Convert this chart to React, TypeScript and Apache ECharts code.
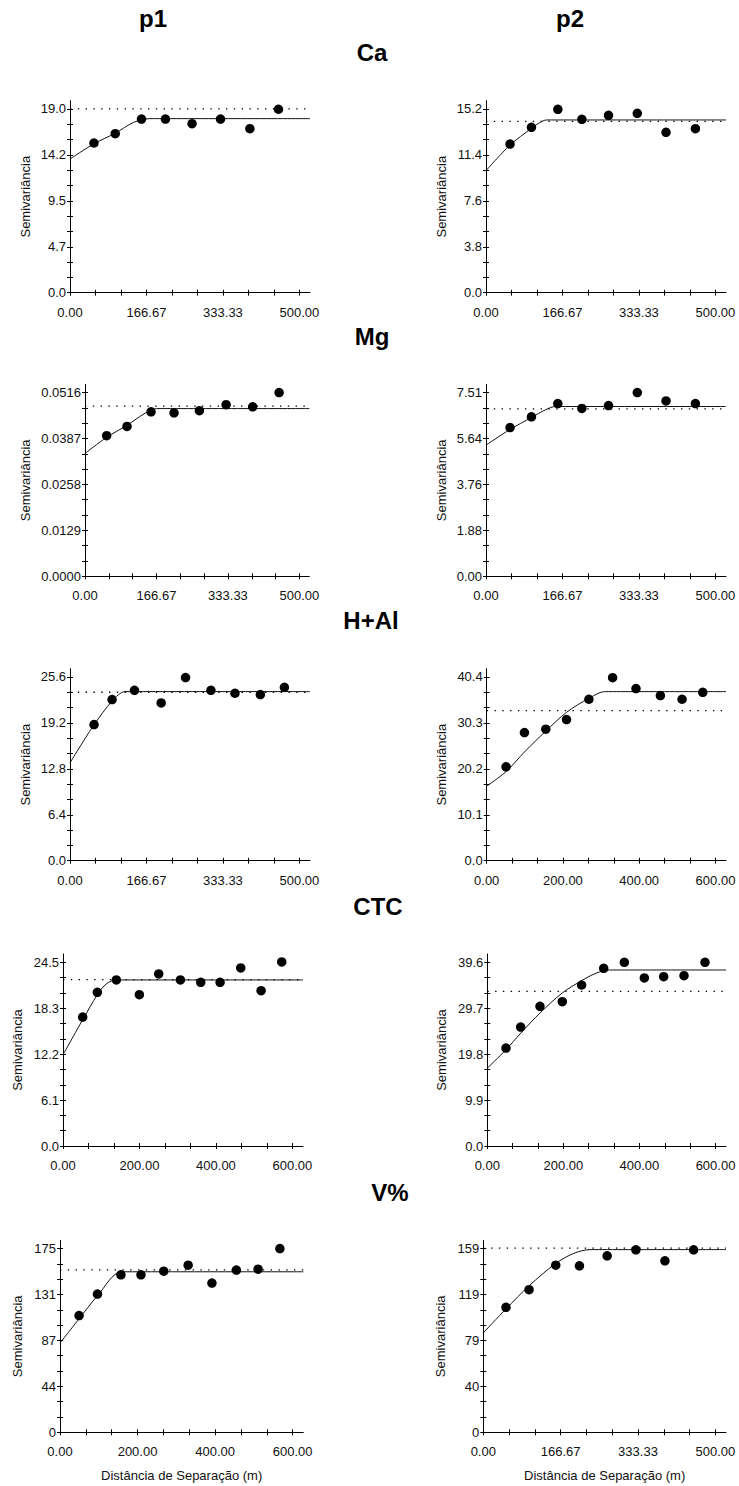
import React, { useEffect, useRef } from "react";
import * as echarts from "echarts";

const W = 739;
const H = 1486;
const FONT = "'Liberation Sans', Arial, Helvetica, sans-serif";

// ---------- titles ----------
const columnTitles = ["p1", "p2"];
const rowTitles = ["Ca", "Mg", "H+Al", "CTC", "V%"];
const yName = "Semivariância";
const xName = "Distância de Separação (m)";

// ---------- tick labels ----------
const xLabels500 = ["0.00", "166.67", "333.33", "500.00"];
const xLabels600 = ["0.00", "200.00", "400.00", "600.00"];

const yLabelsCaP1 = ["0.0", "4.7", "9.5", "14.2", "19.0"];
const yLabelsCaP2 = ["0.0", "3.8", "7.6", "11.4", "15.2"];
const yLabelsMgP1 = ["0.0000", "0.0129", "0.0258", "0.0387", "0.0516"];
const yLabelsMgP2 = ["0.00", "1.88", "3.76", "5.64", "7.51"];
const yLabelsHP1 = ["0.0", "6.4", "12.8", "19.2", "25.6"];
const yLabelsHP2 = ["0.0", "10.1", "20.2", "30.3", "40.4"];
const yLabelsCtcP1 = ["0.0", "6.1", "12.2", "18.3", "24.5"];
const yLabelsCtcP2 = ["0.0", "9.9", "19.8", "29.7", "39.6"];
const yLabelsVP1 = ["0", "44", "87", "131", "175"];
const yLabelsVP2 = ["0", "40", "79", "119", "159"];

// ---------- experimental semivariograms (lag m, semivariance) ----------
const caP1Lag = [52.2, 98.6, 155.8, 208.0, 266.0, 328.0, 392.0, 454.3];
const caP1Gamma = [15.48, 16.44, 17.96, 17.96, 17.48, 17.96, 16.96, 18.97];
const caP2Lag = [52.4, 99.0, 156.5, 208.9, 267.0, 329.7, 392.3, 456.3];
const caP2Gamma = [12.3, 13.68, 15.17, 14.34, 14.67, 14.84, 13.27, 13.57];

const mgP1Lag = [50.5, 98.0, 154.0, 207.6, 266.7, 329.0, 391.0, 452.6];
const mgP1Gamma = [0.0395, 0.0421, 0.0462, 0.0459, 0.0465, 0.0482, 0.0476, 0.0516];
const mgP2Lag = [52.4, 99.0, 156.5, 208.9, 267.0, 329.7, 392.3, 456.3];
const mgP2Gamma = [6.08, 6.52, 7.06, 6.86, 6.98, 7.51, 7.17, 7.06];

const hP1Lag = [52.4, 91.7, 140.5, 198.7, 251.8, 307.1, 359.5, 414.8, 467.2];
const hP1Gamma = [18.97, 22.45, 23.74, 21.98, 25.51, 23.74, 23.33, 23.14, 24.16];
const hP2Lag = [50.8, 99.0, 155.0, 209.3, 268.0, 330.2, 391.5, 455.5, 512.4, 566.7];
const hP2Gamma = [20.64, 28.18, 28.91, 31.03, 35.5, 40.25, 37.84, 36.3, 35.5, 37.03];

const ctcP1Lag = [51.5, 89.8, 139.5, 199.7, 250.3, 307.0, 360.2, 410.8, 464.8, 518.0, 572.0];
const ctcP1Gamma = [17.19, 20.49, 22.14, 20.18, 22.94, 22.14, 21.83, 21.83, 23.74, 20.71, 24.54];
const ctcP2Lag = [49.1, 87.7, 138.5, 197.2, 248.0, 306.0, 360.3, 412.9, 463.7, 517.2, 572.4];
const ctcP2Gamma = [21.1, 25.63, 30.1, 31.1, 34.7, 38.3, 39.6, 36.22, 36.5, 36.72, 39.6];

const vP1Lag = [49.2, 96.7, 157.1, 208.9, 267.6, 330.6, 391.9, 455.0, 511.0, 567.2];
const vP1Gamma = [111.2, 131.7, 150.0, 150.0, 153.5, 159.2, 142.1, 154.5, 155.4, 175.0];
const vP2Lag = [48.9, 98.6, 156.1, 207.2, 266.9, 328.8, 391.4, 453.2];
const vP2Gamma = [108.2, 123.4, 144.6, 144.1, 152.7, 157.9, 148.4, 157.9];

// ---------- fitted models (up to the range) ----------
const caP1ModelLag = [0, 52, 99, 138, 174];
const caP1ModelGamma = [13.82, 15.4, 16.5, 17.6, 18.0];
const caP2ModelLag = [0, 52, 99, 116, 132];
const caP2ModelGamma = [10.1, 12.2, 13.6, 14.05, 14.29];

const mgP1ModelLag = [0, 50, 98, 140, 167];
const mgP1ModelGamma = [0.0345, 0.039, 0.0424, 0.0458, 0.0471];
const mgP2ModelLag = [0, 52, 99, 130, 151];
const mgP2ModelGamma = [5.36, 6.0, 6.49, 6.81, 6.94];

const hP1ModelLag = [0, 15, 52, 92, 120];
const hP1ModelGamma = [13.63, 15.2, 18.9, 22.26, 23.56];
const hP2ModelLag = [0, 51, 99, 155, 209, 268, 311];
const hP2ModelGamma = [16.4, 19.6, 23.9, 28.5, 32.6, 35.7, 37.18];

const ctcP1ModelLag = [0, 51.5, 90, 114, 140];
const ctcP1ModelGamma = [12.16, 16.84, 20.18, 21.65, 22.14];
const ctcP2ModelLag = [0, 49, 88, 138.5, 197, 248, 287.5, 321];
const ctcP2ModelGamma = [16.78, 20.74, 24.34, 28.66, 32.98, 35.64, 37.3, 37.94];

const vP1ModelLag = [0, 49, 97, 160];
const vP1ModelGamma = [85, 108, 130.1, 152.9];
const vP2ModelLag = [0, 49, 99, 156, 194, 230];
const vP2ModelGamma = [86.1, 106.8, 126.9, 146.1, 154.7, 158.1];

// ---------- sample variance (dotted line) ----------
const sampleVariance = [19.0, 14.18, 0.0478, 6.84, 23.47, 33.01, 22.18, 33.34, 154.8, 159.3];

// ---------- panel wiring ----------
const panels = [
  { lag: caP1Lag, gamma: caP1Gamma, mLag: caP1ModelLag, mGamma: caP1ModelGamma, xl: xLabels500, yl: yLabelsCaP1 },
  { lag: caP2Lag, gamma: caP2Gamma, mLag: caP2ModelLag, mGamma: caP2ModelGamma, xl: xLabels500, yl: yLabelsCaP2 },
  { lag: mgP1Lag, gamma: mgP1Gamma, mLag: mgP1ModelLag, mGamma: mgP1ModelGamma, xl: xLabels500, yl: yLabelsMgP1 },
  { lag: mgP2Lag, gamma: mgP2Gamma, mLag: mgP2ModelLag, mGamma: mgP2ModelGamma, xl: xLabels500, yl: yLabelsMgP2 },
  { lag: hP1Lag, gamma: hP1Gamma, mLag: hP1ModelLag, mGamma: hP1ModelGamma, xl: xLabels500, yl: yLabelsHP1 },
  { lag: hP2Lag, gamma: hP2Gamma, mLag: hP2ModelLag, mGamma: hP2ModelGamma, xl: xLabels600, yl: yLabelsHP2 },
  { lag: ctcP1Lag, gamma: ctcP1Gamma, mLag: ctcP1ModelLag, mGamma: ctcP1ModelGamma, xl: xLabels600, yl: yLabelsCtcP1 },
  { lag: ctcP2Lag, gamma: ctcP2Gamma, mLag: ctcP2ModelLag, mGamma: ctcP2ModelGamma, xl: xLabels600, yl: yLabelsCtcP2 },
  { lag: vP1Lag, gamma: vP1Gamma, mLag: vP1ModelLag, mGamma: vP1ModelGamma, xl: xLabels600, yl: yLabelsVP1 },
  { lag: vP2Lag, gamma: vP2Gamma, mLag: vP2ModelLag, mGamma: vP2ModelGamma, xl: xLabels500, yl: yLabelsVP2 },
];

// ---------- layout (pixels) ----------
const panelLeft = [70, 486, 85, 486, 70, 486.7, 63, 487.3, 60, 483.3];
const panelRight = [310, 726, 309.3, 726, 310, 726, 303, 726, 303.3, 726];
const rowZero = [292.7, 576.3, 860.7, 1146, 1432.3];
const yNameGap = [38, 38, 53, 38, 38, 39, 39, 39, 36, 36];
const plotHeight = 192;
const columnTitleX = [153, 570];
const rowTitleX = [372, 372, 371, 378, 390];

function buildOption() {
  const grid: any[] = [];
  const xAxis: any[] = [];
  const yAxis: any[] = [];
  const series: any[] = [];
  const black = "#000";
  const tickStyle = { color: black, width: 1 };

  panels.forEach((p, i) => {
    const row = Math.floor(i / 2);
    const zero = rowZero[row];
    const xTop = parseFloat(p.xl[p.xl.length - 1]);
    const yTop = parseFloat(p.yl[p.yl.length - 1]);
    const xMax = xTop * 1.046;
    const yMax = yTop * 1.045;
    grid.push({
      left: panelLeft[i],
      top: zero - plotHeight,
      width: panelRight[i] - panelLeft[i],
      height: plotHeight,
      containLabel: false,
    });
    const xLabelVals = p.xl.map((_, k) => (k * xTop) / 3);
    const xTickVals = Array.from({ length: 10 }, (_, k) => (k * xTop) / 9);
    const yLabelVals = p.yl.map((_, k) => (k * yTop) / 4);
    const yTickVals = Array.from({ length: 13 }, (_, k) => (k * yTop) / 12);
    const labelStyle = { fontSize: 13, color: "#111", fontFamily: FONT };

    xAxis.push({
      type: "value",
      gridIndex: i,
      position: "bottom",
      min: 0,
      max: xMax,
      axisLine: { show: true, onZero: false, lineStyle: { color: black, width: 1 } },
      axisTick: { show: true, inside: false, length: 3, customValues: xTickVals, lineStyle: tickStyle },
      axisLabel: {
        show: true,
        customValues: xLabelVals,
        formatter: (v: number) => p.xl[Math.round(v / (xTop / 3))] ?? "",
        margin: 13,
        ...labelStyle,
      },
      splitLine: { show: false },
      name: row === 4 ? xName : "",
      nameLocation: "middle",
      nameGap: 37,
      nameTextStyle: { fontSize: 13, color: "#111", fontFamily: FONT },
    });
    xAxis.push({
      type: "value",
      gridIndex: i,
      position: "bottom",
      min: 0,
      max: xMax,
      axisLine: { show: false, onZero: false },
      axisTick: { show: true, inside: true, length: 3, customValues: xTickVals, lineStyle: tickStyle },
      axisLabel: { show: false },
      splitLine: { show: false },
    });
    yAxis.push({
      type: "value",
      gridIndex: i,
      position: "left",
      min: 0,
      max: yMax,
      axisLine: { show: true, onZero: false, lineStyle: { color: black, width: 1 } },
      axisTick: { show: true, inside: false, length: 3, customValues: yTickVals, lineStyle: tickStyle },
      axisLabel: {
        show: true,
        customValues: yLabelVals,
        formatter: (v: number) => p.yl[Math.round(v / (yTop / 4))] ?? "",
        margin: 4,
        ...labelStyle,
      },
      splitLine: { show: false },
      name: yName,
      nameLocation: "middle",
      nameGap: yNameGap[i],
      nameTextStyle: { fontSize: 13, color: "#111", fontFamily: FONT },
    });
    yAxis.push({
      type: "value",
      gridIndex: i,
      position: "left",
      min: 0,
      max: yMax,
      axisLine: { show: false, onZero: false },
      axisTick: { show: true, inside: true, length: 3, customValues: yTickVals, lineStyle: tickStyle },
      axisLabel: { show: false },
      splitLine: { show: false },
    });

    const sill = p.mGamma[p.mGamma.length - 1];
    const modelData = p.mLag.map((x, k) => [x, p.mGamma[k]]);
    modelData.push([xMax, sill]);

    series.push({
      type: "line",
      xAxisIndex: i * 2,
      yAxisIndex: i * 2,
      data: [
        [0, sampleVariance[i]],
        [xMax, sampleVariance[i]],
      ],
      showSymbol: false,
      symbol: "none",
      silent: true,
      lineStyle: { color: black, width: 1.3, type: [1.4, 6.4] },
      z: 1,
    });
    series.push({
      type: "line",
      xAxisIndex: i * 2,
      yAxisIndex: i * 2,
      data: modelData,
      showSymbol: false,
      symbol: "none",
      smooth: 0.3,
      silent: true,
      lineStyle: { color: "#111", width: 1 },
      z: 2,
    });
    series.push({
      type: "scatter",
      xAxisIndex: i * 2,
      yAxisIndex: i * 2,
      data: p.lag.map((x, k) => [x, p.gamma[k]]),
      symbol: "circle",
      symbolSize: 9.5,
      itemStyle: { color: black, opacity: 1 },
      z: 3,
    });
  });

  const graphic: any[] = [];
  columnTitles.forEach((t, c) => {
    graphic.push({
      type: "text",
      x: columnTitleX[c],
      y: 18,
      style: {
        text: t,
        fill: "#000",
        font: `bold 24px ${FONT}`,
        align: "center",
        verticalAlign: "middle",
      },
    });
  });
  rowTitles.forEach((t, r) => {
    graphic.push({
      type: "text",
      x: rowTitleX[r],
      y: rowZero[r] - 240,
      style: {
        text: t,
        fill: "#000",
        font: `bold 24px ${FONT}`,
        align: "center",
        verticalAlign: "middle",
      },
    });
  });

  return {
    animation: false,
    backgroundColor: "#fff",
    grid,
    xAxis,
    yAxis,
    series,
    graphic,
  };
}

export default function App() {
  const ref = useRef<HTMLDivElement>(null);
  useEffect(() => {
    document.body.style.margin = "0";
    const chart = echarts.init(ref.current as HTMLDivElement, undefined, {
      renderer: "svg",
      width: W,
      height: H,
    });
    chart.setOption(buildOption() as any);
    return () => chart.dispose();
  }, []);
  return <div ref={ref} style={{ width: W, height: H }} />;
}
